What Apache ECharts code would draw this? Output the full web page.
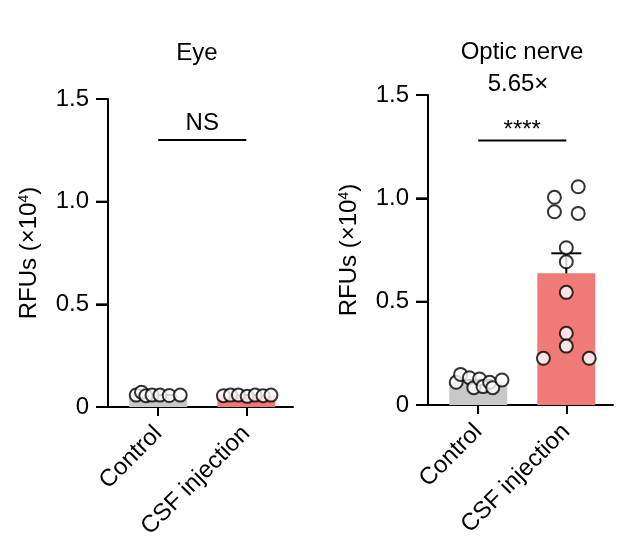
<!DOCTYPE html>
<html>
<head>
<meta charset="utf-8">
<script src="https://cdn.jsdelivr.net/npm/echarts@6/dist/echarts.min.js"></script>
<style>
  html, body { margin: 0; padding: 0; background: #fff; }
  #main { width: 632px; height: 545px; }
</style>
</head>
<body>
<div id="main"></div>
<script>
// categories and panel titles
var categories = ['Control', 'CSF injection'];
var panelTitles = ['Eye', 'Optic nerve'];
var yTicks = [0, 0.5, 1.0, 1.5];

// Eye: bar = mean, sem, individual points (jitter in category units)
var eyeMean = [0.055, 0.056];
var eyeSem = [0.003, 0.001];
var eyeCtrlJitter = [-0.25, -0.19, -0.14, -0.07, 0.02, 0.125, 0.25];
var eyeCtrlValues = [0.058, 0.072, 0.055, 0.058, 0.058, 0.056, 0.058];
var eyeCsfJitter = [-0.26, -0.18, -0.09, 0.01, 0.10, 0.19, 0.28];
var eyeCsfValues = [0.055, 0.058, 0.058, 0.052, 0.058, 0.055, 0.058];

// Optic nerve
var onMean = [0.113, 0.637];
var onSem = [0.008, 0.097];
var onCtrlJitter = [-0.25, -0.20, -0.10, -0.05, 0.015, 0.055, 0.13, 0.165, 0.27];
var onCtrlValues = [0.110, 0.148, 0.132, 0.084, 0.126, 0.089, 0.110, 0.084, 0.121];
var onCsfJitter = [0.135, -0.135, -0.135, 0.135, 0, 0, 0, 0, 0, -0.26, 0.26];
var onCsfValues = [1.056, 1.005, 0.935, 0.927, 0.761, 0.693, 0.545, 0.347, 0.285, 0.226, 0.226];

// significance brackets
var sigLabels = ['NS', '****'];
var sigLevels = [1.30, 1.28];
var foldLabel = '5.65×';

var barColors = ['#c8c8c8', '#f07a78'];
var FONT = '"Liberation Sans", Arial, Helvetica, sans-serif';
var FS = 24;
var X_MIN = -0.57;

function points(base, jitter, values) {
    var out = [];
    for (var i = 0; i < values.length; i++) {
        out.push([base + jitter[i], values[i]]);
    }
    return out;
}

function barData(means) {
    return means.map(function(m, i) {
        return { value: [i, m], itemStyle: { color: barColors[i] } };
    });
}

function errData(means, sems) {
    return means.map(function(m, i) { return [i, m, sems[i]]; });
}

function renderErr(params, api) {
    var x = api.value(0), m = api.value(1), s = api.value(2);
    var top = api.coord([x, m + s]);
    var bot = api.coord([x, m - s]);
    var st = { stroke: '#000', lineWidth: 2 };
    return {
        type: 'group',
        children: [
            { type: 'line', shape: { x1: top[0], y1: top[1], x2: bot[0], y2: bot[1] }, style: st },
            { type: 'line', shape: { x1: top[0] - 15, y1: top[1], x2: top[0] + 15, y2: top[1] }, style: st },
            { type: 'line', shape: { x1: bot[0] - 15, y1: bot[1], x2: bot[0] + 15, y2: bot[1] }, style: st }
        ]
    };
}

// y tick marks, pointing left from the y axis
function renderYTick(params, api) {
    var p = api.coord([X_MIN, api.value(0)]);
    return { type: 'line', shape: { x1: p[0] - 12, y1: p[1], x2: p[0], y2: p[1] },
             style: { stroke: '#000', lineWidth: 2 } };
}

function renderSig(params, api) {
    var a = api.coord([api.value(0), api.value(2)]);
    var b = api.coord([api.value(1), api.value(2)]);
    var label = sigLabels[api.value(3)];
    return {
        type: 'group',
        children: [
            { type: 'line', shape: { x1: a[0], y1: a[1], x2: b[0], y2: b[1] },
              style: { stroke: '#000', lineWidth: 2 } },
            { type: 'text', x: (a[0] + b[0]) / 2, y: a[1] - (label === 'NS' ? 5 : -2),
              style: { text: label, fontSize: FS, fontFamily: FONT, fill: '#000',
                       align: 'center', verticalAlign: 'bottom' } }
        ]
    };
}

var grids = [
    { left: 108, top: 99, width: 185, height: 308 },
    { left: 428, top: 95, width: 185, height: 310 }
];

function makeX(idx) {
    return {
        type: 'value', gridIndex: idx, min: X_MIN, max: 1.53,
        splitLine: { show: false },
        axisLine: { onZero: false, lineStyle: { color: '#000', width: 2 } },
        axisTick: { show: true, customValues: [0, 1], length: 9, lineStyle: { color: '#000', width: 2 } },
        axisLabel: {
            customValues: [0, 1], rotate: 45, margin: 23, fontSize: FS, color: '#000', fontFamily: FONT,
            formatter: function(v) { return categories[Math.round(v)]; }
        }
    };
}

function makeY(idx) {
    return {
        type: 'value', gridIndex: idx, min: 0, max: 1.5, interval: 0.5,
        name: 'RFUs (×10{sup|4})', nameLocation: 'middle', nameGap: 67,
        nameTextStyle: {
            fontSize: FS, color: '#000', fontFamily: FONT,
            rich: { sup: { fontSize: 14, verticalAlign: 'top', fontFamily: FONT, color: '#000' } }
        },
        splitLine: { show: false },
        axisLine: { show: true, onZero: false, lineStyle: { color: '#000', width: 2 } },
        axisTick: { show: true, length: 12, lineStyle: { color: '#000', width: 2 } },
        axisLabel: {
            fontSize: FS, color: '#000', margin: 19, fontFamily: FONT,
            formatter: function(v) { return v === 0 ? '0' : v.toFixed(1); }
        }
    };
}

var dotStyle = { color: '#fff', borderColor: '#000', borderWidth: 2 };

function panelSeries(idx, means, sems, ctrlJ, ctrlV, csfJ, csfV) {
    return [
        { type: 'bar', xAxisIndex: idx, yAxisIndex: idx, barWidth: 58, data: barData(means), silent: true },
        { type: 'custom', xAxisIndex: idx, yAxisIndex: idx, renderItem: renderErr, data: errData(means, sems), silent: true },
        { type: 'scatter', xAxisIndex: idx, yAxisIndex: idx, symbolSize: 13, itemStyle: dotStyle, data: points(0, ctrlJ, ctrlV) },
        { type: 'scatter', xAxisIndex: idx, yAxisIndex: idx, symbolSize: 13, itemStyle: dotStyle, data: points(1, csfJ, csfV) },
        { type: 'custom', xAxisIndex: idx, yAxisIndex: idx, renderItem: renderSig, data: [[0, 1, sigLevels[idx], idx]], silent: true },
        { type: 'custom', xAxisIndex: idx, yAxisIndex: idx, renderItem: renderYTick, clip: false,
          data: yTicks.map(function(t) { return [t]; }), encode: { y: 0 }, silent: true }
    ];
}

// short stub of the x axis line to the left of each y axis
function axisStub(g) {
    var y = g.top + g.height;
    return { type: 'line', shape: { x1: g.left - 12, y1: y, x2: g.left, y2: y }, style: { stroke: '#000', lineWidth: 2 } };
}

function titleText(text, x, y) {
    return { type: 'text', x: x, y: y, style: { text: text, fontSize: FS, fontFamily: FONT, fill: '#000', align: 'center', verticalAlign: 'middle' } };
}

var myChart = echarts.init(document.getElementById('main'));
myChart.setOption({
    backgroundColor: '#fff',
    animation: false,
    textStyle: { fontFamily: FONT },
    grid: grids,
    xAxis: [makeX(0), makeX(1)],
    yAxis: [makeY(0), makeY(1)],
    graphic: [
        titleText(panelTitles[0], 197, 53),
        titleText(panelTitles[1], 522, 52),
        titleText(foldLabel, 518, 84),
        axisStub(grids[0]),
        axisStub(grids[1])
    ],
    series: [].concat(
        panelSeries(0, eyeMean, eyeSem, eyeCtrlJitter, eyeCtrlValues, eyeCsfJitter, eyeCsfValues),
        panelSeries(1, onMean, onSem, onCtrlJitter, onCtrlValues, onCsfJitter, onCsfValues)
    )
});
</script>
</body>
</html>
